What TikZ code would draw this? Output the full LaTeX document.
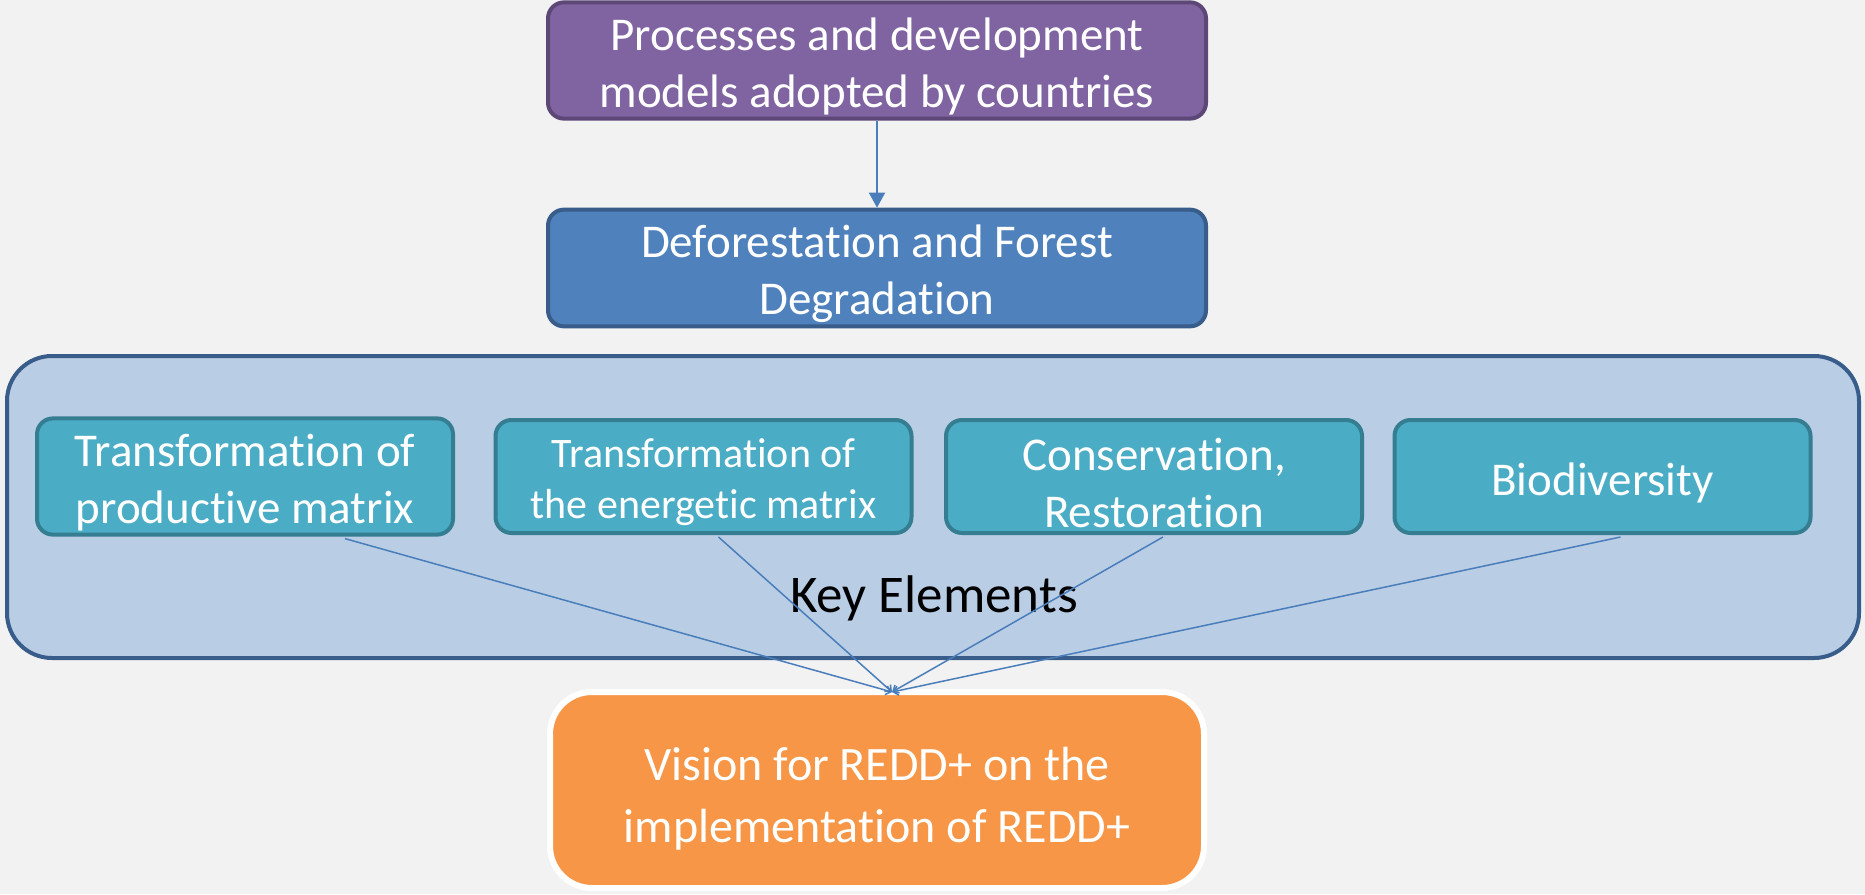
\documentclass[tikz,border=0pt]{standalone}
\usepackage{fontspec}
\setmainfont{Carlito}[Ligatures={NoCommon,NoContextual,NoRare}, Contextuals=NoAlternate]
\usetikzlibrary{positioning, arrows.meta}
\definecolor{bgFill}{HTML}{F2F2F2}
\definecolor{pFill}{HTML}{8064A2}
\definecolor{pDraw}{HTML}{5C4776}
\definecolor{dFill}{HTML}{4F81BD}
\definecolor{dDraw}{HTML}{385D8A}
\definecolor{kFill}{HTML}{B9CDE5}
\definecolor{eFill}{HTML}{4BACC6}
\definecolor{eDraw}{HTML}{357D91}
\definecolor{vFill}{HTML}{F79646}
\definecolor{lineCol}{HTML}{4A7EBB}
% lowers the text a little in the boxes
\newcommand{\boxstrut}[1][45pt]{\rule{0pt}{#1}}
\tikzset{
    Box/.style = {
        rounded corners=16pt,
        line width=4pt,
        text=white,
        align=center,
        font=\fontsize{47}{57}\selectfont
    },
    Elem/.style = {
        Box, fill=eFill, draw=eDraw,
        minimum width=416pt, minimum height=113pt
    },
    Arrow/.style = {
        line width=2pt, draw=lineCol,
        -{Triangle[length=15pt, width=16pt]}
    },
    Link/.style = {
        line width=1.5pt, draw=lineCol,
        -{Straight Barb[length=5pt, width=9pt]}
    }
}

\begin{document}
\begin{tikzpicture}[x=1pt, y=-1pt]
    \fill[bgFill] (0,0) rectangle (1865,894);
    \useasboundingbox (0,0) rectangle (1865,894);

    \node[Box, fill=pFill, draw=pDraw, minimum width=658pt, minimum height=111pt]
        (P) at (877,60.5) {\boxstrut Processes and development\\models adopted by countries};
    \node[Box, fill=dFill, draw=dDraw, minimum width=658pt, minimum height=110pt]
        (D) at (877,268) {\boxstrut Deforestation and Forest\\Degradation};
    \node[Box, rounded corners=45pt, fill=kFill, draw=dDraw, minimum width=1852pt, minimum height=302pt]
        (K) at (933,507) {};
    \node[font=\fontsize{53}{60}\selectfont, anchor=base] (KE) at (934,612) {Key Elements};

    \node[Elem] (E1) at (245,476.5) {\boxstrut Transformation of\\productive matrix};
    \node[Elem, font=\fontsize{42}{51}\selectfont] (E2) at (703.5,476.5) {\boxstrut[41pt]Transformation of\\the energetic matrix};
    \node[Elem] (E3) at (1154,476.5) {\boxstrut Conservation,\\Restoration};
    \node[Elem] (E4) at (1602.5,476.5) {\boxstrut Biodiversity};

    \node[Box, rounded corners=42pt, line width=6pt, fill=vFill, draw=white,
          font=\fontsize{48}{62}\selectfont, minimum width=654pt, minimum height=196pt]
        (V) at (877,790) {\boxstrut[50pt]Vision for REDD+ on the\\implementation of REDD+};

    \draw [Arrow] (P) to (D);
    \draw [Link] ([xshift=100pt, yshift=-2pt]E1.south) to ([xshift=15pt, yshift=-3pt]V.north);
    \draw [Link] ([xshift=15pt, yshift=-2pt]E2.south) to ([xshift=15pt, yshift=-3pt]V.north);
    \draw [Link] ([xshift=9pt, yshift=-2pt]E3.south) to ([xshift=15pt, yshift=-3pt]V.north);
    \draw [Link] ([xshift=18pt, yshift=-2pt]E4.south) to ([xshift=15pt, yshift=-3pt]V.north);
\end{tikzpicture}
\end{document}
